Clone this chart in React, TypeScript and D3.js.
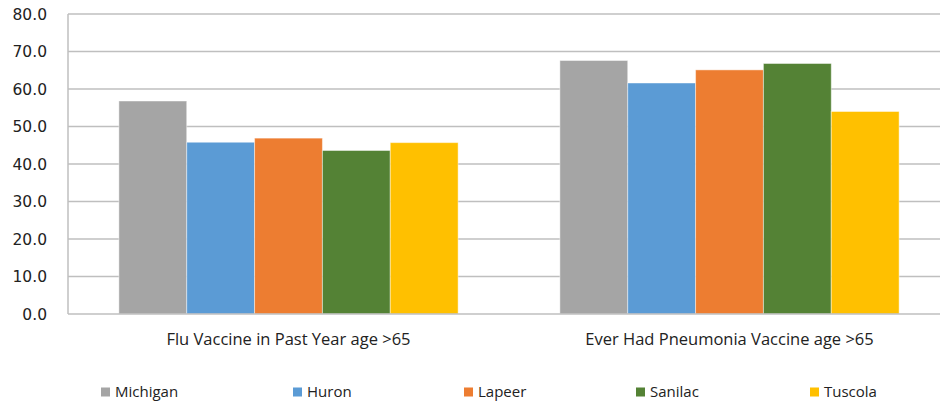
import * as d3 from 'd3';

const WIDTH = 940;
const HEIGHT = 404;
const MARGIN = { top: 14, right: -10, bottom: 90, left: 68 };

const categories = ['Flu Vaccine in Past Year age >65', 'Ever Had Pneumonia Vaccine age >65'];
const seriesNames = ['Michigan', 'Huron', 'Lapeer', 'Sanilac', 'Tuscola'];
const seriesColors = ['#a5a5a5', '#5b9bd5', '#ed7d31', '#548235', '#ffc000'];
const michigan = [56.8, 67.6];
const huron = [45.8, 61.6];
const lapeer = [46.9, 65.1];
const sanilac = [43.6, 66.8];
const tuscola = [45.7, 54.0];
const yTicks = [0, 10, 20, 30, 40, 50, 60, 70, 80];
const legendX = [101, 293, 464, 636, 810];

const seriesValues = [michigan, huron, lapeer, sanilac, tuscola];

const App = () => {
  const boundsWidth = WIDTH - MARGIN.left - MARGIN.right;
  const boundsHeight = HEIGHT - MARGIN.top - MARGIN.bottom;

  const yScale = d3.scaleLinear().domain([0, 80]).range([boundsHeight, 0]);
  const xScale = d3.scaleBand().domain(categories).range([0, boundsWidth]).paddingInner(0.0).paddingOuter(0);
  // excel gap width 150% -> group is 5 bars, gap 1.5 bars
  const barW = xScale.bandwidth() / (seriesNames.length + 1.5);
  const inner = d3
    .scaleBand()
    .domain(seriesNames)
    .range([0, barW * seriesNames.length]);

  return (
    <div style={{ position: 'fixed', left: 0, top: 0 }}>
      <svg width={WIDTH} height={HEIGHT} style={{ display: 'block', background: '#fff' }}>
        <g transform={`translate(${MARGIN.left},${MARGIN.top})`}>
          {yTicks.map(t => (
            <g key={t}>
              {t > 0 && (
                <line x1={0} x2={boundsWidth} y1={yScale(t)} y2={yScale(t)} stroke="#bfbfbf" strokeWidth={1.5} />
              )}
              <text
                x={-21}
                y={yScale(t)}
                dy="0.36em"
                textAnchor="end"
                fontFamily="DejaVu Sans"
                fontSize={15.5}
                fill="#222"
              >
                {t.toFixed(1)}
              </text>
            </g>
          ))}
          {categories.map((c, ci) => {
            const x0 = (xScale(c) || 0) + (xScale.bandwidth() - barW * seriesNames.length) / 2;
            return (
              <g key={c}>
                {seriesNames.map((s, si) => {
                  const v = seriesValues[si][ci];
                  return (
                    <rect
                      key={s}
                      x={x0 + (inner(s) || 0)}
                      y={yScale(v)}
                      width={inner.bandwidth()}
                      height={boundsHeight - yScale(v)}
                      fill={seriesColors[si]}
                      stroke="#ffffff"
                      strokeOpacity={0.45}
                      strokeWidth={1}
                    />
                  );
                })}
                <text
                  x={(xScale(c) || 0) + xScale.bandwidth() / 2}
                  y={boundsHeight + 31}
                  textAnchor="middle"
                  fontFamily="'Liberation Sans Narrow', 'Open Sans', sans-serif"
                  fontSize={16.5}
                  fill="#222"
                >
                  {c}
                </text>
              </g>
            );
          })}
          <line x1={0} x2={0} y1={0} y2={boundsHeight} stroke="#bfbfbf" strokeWidth={1.5} />
          <line x1={0} x2={boundsWidth} y1={boundsHeight} y2={boundsHeight} stroke="#bfbfbf" strokeWidth={1.5} />
        </g>
        {seriesNames.map((s, i) => (
          <g key={s} transform={`translate(${legendX[i]},392)`}>
            <rect x={0} y={-4.5} width={9} height={9} fill={seriesColors[i]} />
            <text
              x={14}
              y={0}
              dy="0.36em"
              fontFamily="'Liberation Sans Narrow', 'Open Sans', sans-serif"
              fontSize={15}
              fill="#222"
            >
              {s}
            </text>
          </g>
        ))}
      </svg>
    </div>
  );
};

export default App;
